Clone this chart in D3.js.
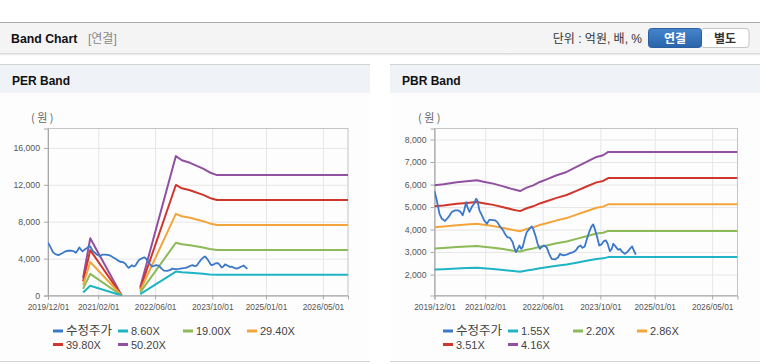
<!DOCTYPE html>
<html><head><meta charset="utf-8">
<script src="https://cdn.jsdelivr.net/npm/d3@7"></script>
<style>
body{margin:0;background:#fff;}
svg{display:block;font-family:"Liberation Sans","Noto Sans CJK KR",Arial,sans-serif;}
</style></head><body>
<svg id="c" width="760" height="364"></svg>
<script>
// ---------- DATA ----------
const xTickLabels = ["2019/12/01","2021/02/01","2022/06/01","2023/10/01","2025/01/01","2026/05/01"];
const xDomain = ["2019-12-01","2026-12-01"];
const perYTicks = [0,4000,8000,12000,16000];
const pbrYTicks = [2000,3000,4000,5000,6000,7000,8000];
const seriesNamePrice = "수정주가";
const perLabels = ["8.60X","19.00X","29.40X","39.80X","50.20X"];
const pbrLabels = ["1.55X","2.20X","2.86X","3.51X","4.16X"];

const priceDates = ["2019-12-01","2019-12-20","2020-01-12","2020-02-01","2020-02-28","2020-03-27","2020-04-25","2020-05-22","2020-06-20","2020-07-09","2020-07-26","2020-08-07","2020-08-24","2020-09-04","2020-09-21","2020-10-10","2020-10-30","2020-11-16","2020-11-27","2020-12-14","2021-01-04","2021-01-23","2021-02-15","2021-03-07","2021-03-27","2021-04-24","2021-05-14","2021-06-06","2021-07-03","2021-07-17","2021-08-07","2021-08-29","2021-09-21","2021-10-02","2021-10-19","2021-11-02","2021-11-16","2021-12-01","2021-12-14","2022-01-04","2022-01-18","2022-02-09","2022-02-28","2022-03-13","2022-04-05","2022-04-19","2022-05-08","2022-05-22","2022-06-11","2022-07-04","2022-07-26","2022-08-15","2022-09-13","2022-10-10","2022-10-24","2022-11-22","2022-12-20","2023-01-18","2023-02-15","2023-03-07","2023-03-27","2023-04-16","2023-05-03","2023-05-22","2023-06-06","2023-06-28","2023-07-18","2023-08-01","2023-08-15","2023-09-04","2023-09-21","2023-10-10","2023-10-30","2023-11-16","2023-12-01","2023-12-20","2024-01-04","2024-01-18","2024-02-10","2024-02-29","2024-03-13","2024-04-05","2024-04-25","2024-05-14","2024-06-06","2024-06-25","2024-07-09","2024-07-26"];
const priceValues = [5710,5300,4700,4480,4380,4550,4780,4850,4850,4780,4630,4850,5220,5000,4780,5000,5150,5370,5300,4850,4630,4410,4260,4430,4430,4410,4330,4140,3960,3810,3660,3630,3440,3220,3000,3140,3290,3140,3220,3660,3890,4030,4140,4030,3660,3370,3140,3220,3290,3220,2920,2700,2670,2770,2920,2850,2890,2950,3000,3070,3220,3290,3190,3250,3520,3890,4140,4230,4030,3660,3290,3340,3490,3520,3370,3040,3140,3370,3220,3100,3140,3000,2920,3000,3140,3250,3070,2890];

const perDates = ["2020-09-25","2020-11-25","2021-08-20","2021-11-01","2022-01-25","2022-11-25","2023-01-15","2023-03-25","2023-07-15","2023-09-10","2023-11-10","2026-12-01"];
const per860  = [327,1062,0,null,155,2589,2511,2464,2356,2285,2236,2236];
const per1900 = [722,2347,0,null,342,5719,5548,5444,5206,5048,4940,4940];
const per2940 = [1117,3631,0,null,529,8849,8585,8423,8056,7812,7644,7644];
const per3980 = [1512,4915,0,null,716,11980,11622,11403,10905,10575,10348,10348];
const per5020 = [1908,6200,0,null,904,15110,14658,14382,13755,13338,13052,13052];

const pbrDates = ["2019-12-01","2020-02-15","2020-06-06","2020-08-29","2020-11-22","2021-01-17","2021-04-10","2021-07-03","2021-09-26","2021-11-22","2022-01-17","2022-03-13","2022-05-08","2022-07-04","2022-09-27","2022-12-20","2023-03-13","2023-06-06","2023-08-29","2023-10-24","2023-12-06","2026-12-01"];
const pbr155 = [2223,2240,2272,2289,2306,2283,2251,2206,2156,2128,2184,2223,2279,2322,2389,2444,2527,2610,2692,2720,2776,2776];
const pbr220 = [3155,3179,3225,3249,3274,3241,3194,3131,3060,3021,3100,3155,3234,3296,3390,3469,3586,3705,3821,3861,3940,3940];
const pbr286 = [4101,4133,4193,4224,4256,4213,4153,4070,3978,3927,4030,4101,4204,4284,4407,4510,4662,4816,4968,5019,5122,5122];
const pbr351 = [5033,5072,5146,5184,5223,5170,5097,4995,4882,4819,4946,5033,5160,5258,5409,5535,5721,5911,6097,6160,6286,6286];
const pbr416 = [5965,6011,6099,6144,6190,6128,6040,5920,5787,5712,5861,5965,6115,6232,6411,6560,6781,7005,7226,7301,7451,7451];

const colors = ["#3b78c8","#1eb4c6","#8cba56","#f3a53a","#d1362c","#9150a0"];

// ---------- DRAW ----------
const svg = d3.select("#c");
const parse = d3.timeParse("%Y-%m-%d");
const parseTick = d3.timeParse("%Y/%m/%d");
const defs = svg.append("defs");
const sh = defs.append("linearGradient").attr("id","sh").attr("x1",0).attr("y1",0).attr("x2",0).attr("y2",1);
sh.append("stop").attr("offset",0).attr("stop-color","#d0d0d0");
sh.append("stop").attr("offset",1).attr("stop-color","#ffffff").attr("stop-opacity",0);
const bg = defs.append("linearGradient").attr("id","btn").attr("x1",0).attr("y1",0).attr("x2",0).attr("y2",1);
bg.append("stop").attr("offset",0).attr("stop-color","#4585cc");
bg.append("stop").attr("offset",1).attr("stop-color","#2a64aa");

// header
svg.append("rect").attr("x",0).attr("y",22).attr("width",760).attr("height",31).attr("fill","#f4f4f4");
svg.append("rect").attr("x",0).attr("y",22).attr("width",760).attr("height",1).attr("fill","#aaaaaa");
svg.append("rect").attr("x",0).attr("y",53).attr("width",760).attr("height",4).attr("fill","url(#sh)");
svg.append("text").attr("x",11).attr("y",43).attr("font-size",12.3).attr("font-weight","bold").attr("fill","#111").text("Band Chart");
svg.append("text").attr("x",88).attr("y",43).attr("font-size",12).attr("fill","#888").text("[연결]");
svg.append("text").attr("x",642).attr("y",43).attr("font-size",12).attr("fill","#333").attr("text-anchor","end").text("단위 : 억원, 배, %");
svg.append("rect").attr("x",701).attr("y",28.5).attr("width",48).attr("height",19).attr("rx",3).attr("fill","#fff").attr("stroke","#c4c4c4");
svg.append("rect").attr("x",648.5).attr("y",28.5).attr("width",53).attr("height",19).attr("rx",3).attr("fill","url(#btn)").attr("stroke","#2b5f9e");
svg.append("text").attr("x",675).attr("y",42.5).attr("font-size",12).attr("font-weight","bold").attr("fill","#fff").attr("text-anchor","middle").text("연결");
svg.append("text").attr("x",725).attr("y",42.5).attr("font-size",12).attr("font-weight","bold").attr("fill","#333").attr("text-anchor","middle").text("별도");

function panel(px, title){
  const g = svg.append("g");
  g.append("rect").attr("x",px).attr("y",64).attr("width",370).attr("height",298).attr("fill","#fdfdfd");
  g.append("rect").attr("x",px).attr("y",65).attr("width",370).attr("height",28).attr("fill","#eff2f7");
  g.append("rect").attr("x",px).attr("y",64).attr("width",370).attr("height",1).attr("fill","#d4d4d4");
  g.append("rect").attr("x",px).attr("y",361).attr("width",370).attr("height",1).attr("fill","#d4d4d4");
  g.append("text").attr("x",px+12).attr("y",85).attr("font-size",12).attr("font-weight","bold").attr("fill","#111").text(title);
  return g;
}

function chart(cfg){
  const g = panel(cfg.px, cfg.title);
  const L = cfg.left, R = cfg.right, T = 128.5, B = 295.5;
  const x = d3.scaleTime().domain(xDomain.map(parse)).range([L,R]);
  const y = d3.scaleLinear().domain(cfg.yDomain).range([B,T]);
  const xt = xTickLabels.map(parseTick);
  // grid
  g.append("g").attr("transform",`translate(${L},0)`)
    .call(d3.axisLeft(y).tickValues(cfg.yTicks).tickSize(-(R-L)).tickFormat(""))
    .call(s=>{s.select(".domain").remove(); s.selectAll("line").attr("stroke","#e6e6e6");});
  g.append("g").attr("transform",`translate(0,${T})`)
    .call(d3.axisBottom(x).tickValues(xt).tickSize(B-T).tickFormat(""))
    .call(s=>{s.select(".domain").remove(); s.selectAll("line").attr("stroke","#e6e6e6");});
  // border
  g.append("rect").attr("x",L).attr("y",T).attr("width",R-L).attr("height",B-T).attr("fill","none").attr("stroke","#c4c4c4");
  // axes
  g.append("g").attr("transform",`translate(${L},0)`)
    .call(d3.axisLeft(y).tickValues(cfg.yTicks).tickSize(4).tickPadding(4).tickFormat(d3.format(",")))
    .call(s=>{s.select(".domain").attr("stroke","#a8a8a8"); s.selectAll("line").attr("stroke","#a8a8a8");
      s.selectAll("text").attr("fill","#555").attr("font-size",8.7).attr("font-family",null);});
  g.append("g").attr("transform",`translate(0,${B})`)
    .call(d3.axisBottom(x).tickValues(xt).tickSize(4).tickPadding(4.5).tickFormat(d3.timeFormat("%Y/%m/%d")))
    .call(s=>{s.select(".domain").attr("stroke","#a8a8a8"); s.selectAll("line").attr("stroke","#a8a8a8");
      s.selectAll("text").attr("fill","#555").attr("font-size",8.3).attr("font-family",null);});
  g.append("text").attr("x",cfg.px+cfg.unitX).attr("y",121.5).attr("font-size",11).attr("fill","#666")
    .attr("font-family","'Noto Sans CJK KR', sans-serif").text("( 원 )");
  // lines
  const clipId = "clip"+cfg.px;
  defs.append("clipPath").attr("id",clipId).append("rect").attr("x",L).attr("y",T-2).attr("width",R-L).attr("height",B-T+2);
  const lg = g.append("g").attr("clip-path",`url(#${clipId})`);
  const line = d3.line().defined(d=>d[1]!==null).x(d=>x(d[0])).y(d=>y(d[1]));
  const bandDates = cfg.bandDates.map(parse);
  cfg.bands.slice().reverse().forEach((arr,ri)=>{
    const i = cfg.bands.length-1-ri;
    lg.append("path").datum(arr.map((v,k)=>[bandDates[k],v]))
      .attr("d",line).attr("fill","none").attr("stroke",colors[i+1]).attr("stroke-width",2).attr("stroke-linejoin","round");
  });
  const pd = priceDates.map(parse);
  lg.append("path").datum(priceValues.map((v,k)=>[pd[k],v]))
    .attr("d",line).attr("fill","none").attr("stroke",colors[0]).attr("stroke-width",1.8).attr("stroke-linejoin","round");
  // legend
  const names = [seriesNamePrice].concat(cfg.labels);
  const cols = [53,118,183,247];
  names.forEach((n,i)=>{
    const cx = cfg.px + cols[i%4], cy = i<4 ? 331 : 344.5;
    g.append("line").attr("x1",cx).attr("x2",cx+10).attr("y1",cy).attr("y2",cy).attr("stroke",colors[i]).attr("stroke-width",3);
    g.append("text").attr("x",cx+13).attr("y",cy+4.3).attr("font-size",i===0?12.5:11).attr("fill","#444").text(n);
  });
}

chart({px:0, title:"PER Band", left:48, right:348, yDomain:[0,18100], yTicks:perYTicks,
  bandDates:perDates, bands:[per860,per1900,per2940,per3980,per5020], labels:perLabels, unitX:31});
chart({px:390, title:"PBR Band", left:434.5, right:737.5, yDomain:[1070,8490], yTicks:pbrYTicks,
  bandDates:pbrDates, bands:[pbr155,pbr220,pbr286,pbr351,pbr416], labels:pbrLabels, unitX:28});
</script></body></html>
